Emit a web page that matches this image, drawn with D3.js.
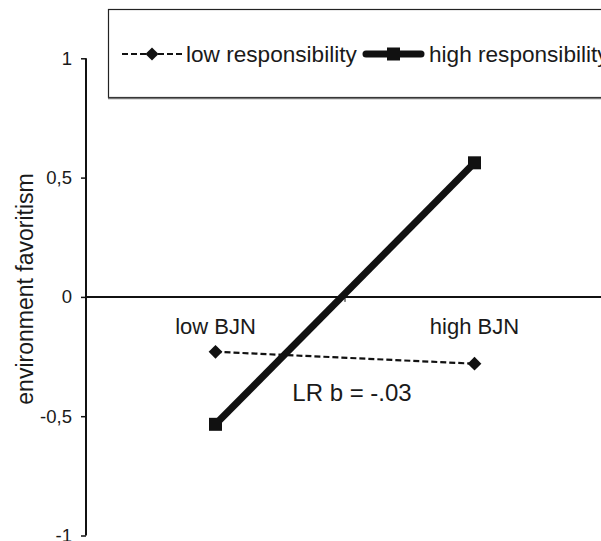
<!DOCTYPE html>
<html>
<head>
<meta charset="utf-8">
<script src="https://cdn.jsdelivr.net/npm/d3@7"></script>
<style>
  body { margin: 0; background: #fff; }
  text { font-family: "Liberation Sans", Arial, sans-serif; fill: #1a1a1a; }
</style>
</head>
<body>
<div id="chart"></div>
<script>
// data
var categories = ["low BJN", "high BJN"];
var lowResp = [-0.23, -0.28];
var highResp = [-0.534, 0.562];
var yTicks = [-1, -0.5, 0, 0.5, 1];
var seriesNames = ["low responsibility", "high responsibility"];
var note = "LR b = -.03";

var svgWidth = 601;
var svgHeight = 541;
var margin = { top: 58.3, right: -3, bottom: 5.5, left: 86 };

var width = svgWidth - margin.left - margin.right;
var height = svgHeight - margin.top - margin.bottom;

var svg = d3.select("#chart")
    .append("svg")
    .attr("width", svgWidth)
    .attr("height", svgHeight);

var chartGroup = svg.append("g")
    .attr("transform", `translate(${margin.left}, ${margin.top})`);

var xScale = d3.scaleBand()
    .domain(categories)
    .range([0, width]);

var yScale = d3.scaleLinear()
    .domain([-1, 1])
    .range([height, 0]);

// y axis
var yAxis = d3.axisLeft(yScale)
    .tickValues(yTicks)
    .tickSize(5)
    .tickPadding(9)
    .tickFormat(d => String(d).replace(".", ","));

var yG = chartGroup.append("g").call(yAxis);
yG.select(".domain").attr("d", `M0,${yScale(1)}V${yScale(-1)}`)
    .attr("stroke", "#111").attr("stroke-width", 2);
yG.selectAll(".tick line").attr("stroke", "#111").attr("stroke-width", 1.5);
yG.selectAll(".tick text")
    .style("font-size", "18.5px")
    .attr("fill", "#1a1a1a")
    .attr("font-family", "Liberation Sans, Arial, sans-serif");

// x axis along zero
var xAxis = d3.axisBottom(xScale).tickSize(0).tickPadding(21);
var xG = chartGroup.append("g")
    .attr("transform", `translate(0, ${yScale(0)})`)
    .call(xAxis);
xG.select(".domain").attr("d", `M0,0H${width}`)
    .attr("stroke", "#111").attr("stroke-width", 2);
xG.selectAll(".tick text")
    .style("font-size", "22px")
    .attr("fill", "#1a1a1a")
    .attr("font-family", "Liberation Sans, Arial, sans-serif");

// category boundary ticks
xG.selectAll(".bound")
    .data(categories.slice(1))
    .enter()
    .append("line")
    .attr("x1", d => xScale(d))
    .attr("x2", d => xScale(d))
    .attr("y1", 0)
    .attr("y2", 5)
    .attr("stroke", "#111")
    .attr("stroke-width", 1);

var cx = d => xScale(d) + xScale.bandwidth() / 2;

// low responsibility: dashed with diamonds
var line = d3.line()
    .x((d, i) => cx(categories[i]))
    .y(d => yScale(d));

chartGroup.append("path")
    .datum(lowResp)
    .attr("d", line)
    .attr("fill", "none")
    .attr("stroke", "#111")
    .attr("stroke-width", 2.2)
    .attr("stroke-dasharray", "6,3");

chartGroup.selectAll(".diamond")
    .data(lowResp)
    .enter()
    .append("path")
    .attr("d", d3.symbol().type(d3.symbolDiamond2).size(120))
    .attr("transform", (d, i) => `translate(${cx(categories[i])}, ${yScale(d)})`)
    .attr("fill", "#111");

// high responsibility: thick with squares
chartGroup.append("path")
    .datum(highResp)
    .attr("d", line)
    .attr("fill", "none")
    .attr("stroke", "#111")
    .attr("stroke-width", 7);

chartGroup.selectAll(".square")
    .data(highResp)
    .enter()
    .append("rect")
    .attr("x", (d, i) => cx(categories[i]) - 6.5)
    .attr("y", d => yScale(d) - 6.5)
    .attr("width", 13)
    .attr("height", 13)
    .attr("fill", "#111");

// annotation
chartGroup.append("text")
    .attr("x", xScale(categories[1]) + 7)
    .attr("y", yScale(-0.435))
    .attr("text-anchor", "middle")
    .style("font-size", "24px")
    .text(note);

// y axis title
svg.append("text")
    .attr("transform", "rotate(-90)")
    .attr("x", -289)
    .attr("y", 33)
    .attr("text-anchor", "middle")
    .style("font-size", "23px")
    .text("environment favoritism");

// legend
var legend = svg.append("g");
legend.append("rect")
    .attr("x", 108.5)
    .attr("y", 9.5)
    .attr("width", 520)
    .attr("height", 88)
    .attr("fill", "#fff")
    .attr("stroke", "#222")
    .attr("stroke-width", 1.2);
legend.append("line")
    .attr("x1", 108).attr("x2", 601)
    .attr("y1", 98.5).attr("y2", 98.5)
    .attr("stroke", "#777").attr("stroke-width", 1.5);

var ly = 54;
legend.append("line")
    .attr("x1", 122).attr("x2", 182)
    .attr("y1", ly).attr("y2", ly)
    .attr("stroke", "#111").attr("stroke-width", 2.2)
    .attr("stroke-dasharray", "6,3");
legend.append("path")
    .attr("d", d3.symbol().type(d3.symbolDiamond2).size(110))
    .attr("transform", `translate(152, ${ly})`)
    .attr("fill", "#111");
legend.append("text")
    .attr("x", 186).attr("y", 62)
    .style("font-size", "22.6px")
    .text(seriesNames[0]);

legend.append("line")
    .attr("x1", 366).attr("x2", 421)
    .attr("y1", ly).attr("y2", ly)
    .attr("stroke", "#111").attr("stroke-width", 7)
    .attr("stroke-linecap", "round");
legend.append("rect")
    .attr("x", 387).attr("y", ly - 6.5)
    .attr("width", 13).attr("height", 13)
    .attr("fill", "#111");
legend.append("text")
    .attr("x", 429).attr("y", 62)
    .style("font-size", "22.6px")
    .text(seriesNames[1]);
</script>
</body>
</html>
